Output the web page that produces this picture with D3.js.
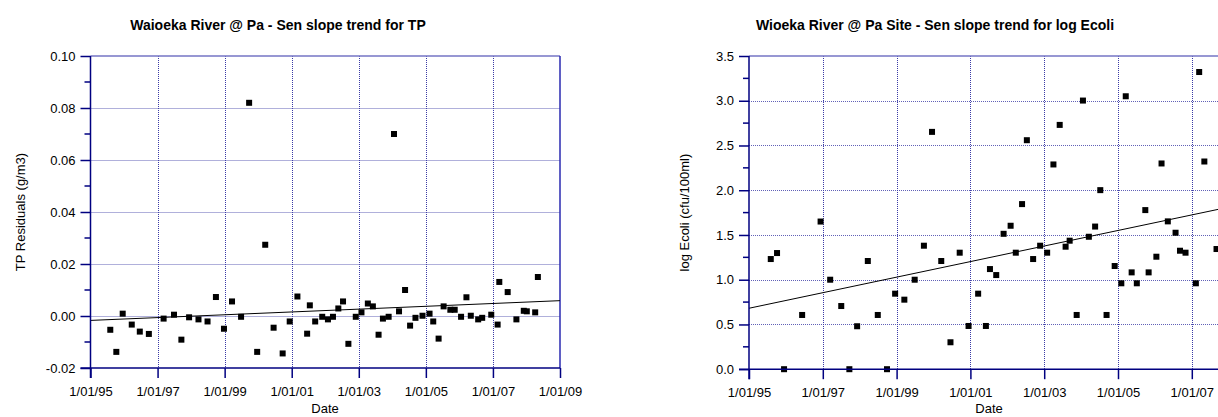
<!DOCTYPE html>
<html><head><meta charset="utf-8">
<script src="https://cdn.jsdelivr.net/npm/d3@7"></script>
<style>
body{margin:0;background:#fff;overflow:hidden}
svg{display:block}
text{font-family:"Liberation Sans",Arial,sans-serif;fill:#000}
</style>
</head><body>
<svg id="c" width="1218" height="417"></svg>
<script>
// ---------- shared axis data ----------
const xTickYears = [1995, 1997, 1999, 2001, 2003, 2005, 2007, 2009];
const xTickLabels = ["1/01/95", "1/01/97", "1/01/99", "1/01/01", "1/01/03", "1/01/05", "1/01/07", "1/01/09"];

// ---------- left panel: TP residuals ----------
const tpTitle = "Waioeka River @ Pa - Sen slope trend for TP";
const tpYLabel = "TP Residuals (g/m3)";
const tpYTicks = [-0.02, 0.00, 0.02, 0.04, 0.06, 0.08, 0.10];
const tpYTickLabels = ["-0.02", "0.00", "0.02", "0.04", "0.06", "0.08", "0.10"];
const tpDates = [1995.59, 1995.77, 1995.96, 1996.23, 1996.47, 1996.74, 1997.18, 1997.49, 1997.71, 1997.94,
  1998.22, 1998.49, 1998.74, 1998.98, 1999.22, 1999.49, 1999.73, 1999.97, 2000.21, 2000.46,
  2000.73, 2000.94, 2001.17, 2001.46, 2001.54, 2001.70, 2001.91, 2002.08, 2002.23, 2002.39,
  2002.53, 2002.69, 2002.91, 2003.08, 2003.27, 2003.42, 2003.59, 2003.72, 2003.89, 2004.05,
  2004.20, 2004.38, 2004.53, 2004.69, 2004.90, 2005.11, 2005.22, 2005.38, 2005.53, 2005.73,
  2005.86, 2006.05, 2006.21, 2006.34, 2006.56, 2006.68, 2006.95, 2007.14, 2007.19, 2007.44,
  2007.70, 2007.92, 2008.01, 2008.26, 2008.34];
const tpValues = [-0.0053, -0.0138, 0.0009, -0.0033, -0.0060, -0.0069, -0.0010, 0.0005, -0.0091, -0.0005,
  -0.0013, -0.0021, 0.0073, -0.0049, 0.0056, -0.0003, 0.0820, -0.0138, 0.0274, -0.0045,
  -0.0144, -0.0021, 0.0075, -0.0068, 0.0041, -0.0021, -0.0003, -0.0013, -0.0003, 0.0029,
  0.0056, -0.0107, -0.0003, 0.0014, 0.0048, 0.0037, -0.0072, -0.0010, -0.0003, 0.0700,
  0.0018, 0.0100, -0.0037, -0.0007, 0.0001, 0.0009, -0.0021, -0.0087, 0.0037, 0.0024,
  0.0024, -0.0003, 0.0072, 0.0001, -0.0013, -0.0007, 0.0005, -0.0033, 0.0131, 0.0092,
  -0.0013, 0.0020, 0.0018, 0.0014, 0.0150];
const tpTrendYears = [1995, 2009];
const tpTrend = [-0.0017, 0.0059];

// ---------- right panel: log Ecoli ----------
const ecTitle = "Wioeka River @ Pa Site - Sen slope trend for log Ecoli";
const ecYLabel = "log Ecoli (cfu/100ml)";
const ecYTicks = [0, 0.5, 1.0, 1.5, 2.0, 2.5, 3.0, 3.5];
const ecYTickLabels = ["0.0", "0.5", "1.0", "1.5", "2.0", "2.5", "3.0", "3.5"];
const ecDates = [1995.59, 1995.76, 1995.95, 1996.44, 1996.94, 1997.20, 1997.50, 1997.72, 1997.93, 1998.22,
  1998.49, 1998.74, 1998.96, 1999.21, 1999.49, 1999.74, 1999.96, 2000.21, 2000.46, 2000.71,
  2000.95, 2001.21, 2001.42, 2001.53, 2001.70, 2001.90, 2002.09, 2002.23, 2002.40, 2002.53,
  2002.70, 2002.89, 2003.08, 2003.25, 2003.42, 2003.58, 2003.69, 2003.88, 2004.05, 2004.21,
  2004.38, 2004.52, 2004.69, 2004.91, 2005.09, 2005.21, 2005.37, 2005.51, 2005.74, 2005.83,
  2006.04, 2006.18, 2006.35, 2006.56, 2006.68, 2006.83, 2007.11, 2007.20, 2007.34, 2007.67];
const ecValues = [1.231, 1.298, 0.000, 0.606, 1.650, 1.000, 0.706, 0.000, 0.480, 1.209,
  0.606, 0.000, 0.844, 0.777, 1.000, 1.380, 2.652, 1.209, 0.301, 1.302,
  0.483, 0.844, 0.483, 1.119, 1.052, 1.513, 1.603, 1.302, 1.845, 2.559,
  1.231, 1.380, 1.302, 2.288, 2.730, 1.369, 1.436, 0.606, 3.002, 1.480,
  1.594, 2.001, 0.606, 1.153, 0.960, 3.050, 1.082, 0.960, 1.778, 1.082,
  1.257, 2.299, 1.652, 1.525, 1.324, 1.302, 0.960, 3.321, 2.321, 1.343];
const ecTrendYears = [1995, 2009];
const ecTrend = [0.681, 1.898];

const svg = d3.select("#c");
const W = 1218;
const NAVY = "#000080";
const GRID = "#3a3aa6";

function drawPanel(cfg) {
  const x = d3.scaleLinear().domain([xTickYears[0], xTickYears[xTickYears.length - 1]]).range([cfg.left, cfg.right]);
  const yT = cfg.yTicks;
  const y = d3.scaleLinear().domain([yT[0], yT[yT.length - 1]]).range([cfg.bottom, cfg.top]);
  const g = svg.append("g");

  // grid
  g.selectAll("line.gx").data(xTickYears.slice(1, -1)).join("line")
    .attr("x1", d => Math.round(x(d)) + 0.5).attr("x2", d => Math.round(x(d)) + 0.5)
    .attr("y1", cfg.top).attr("y2", cfg.bottom)
    .attr("stroke", GRID).attr("stroke-width", 1).attr("stroke-dasharray", "1,1");
  g.selectAll("line.gy").data(yT.slice(1, -1)).join("line")
    .attr("x1", cfg.left).attr("x2", cfg.right)
    .attr("y1", d => Math.round(y(d)) + 0.5).attr("y2", d => Math.round(y(d)) + 0.5)
    .attr("stroke", GRID).attr("stroke-width", 1).attr("stroke-dasharray", "1,1").attr("opacity", 0.8);

  // frame: top (light), right (blue)
  g.append("line").attr("x1", cfg.left).attr("x2", cfg.right).attr("y1", cfg.top).attr("y2", cfg.top)
    .attr("stroke", "#7474c4").attr("stroke-width", 1.5);
  g.append("line").attr("x1", cfg.right).attr("x2", cfg.right).attr("y1", cfg.top).attr("y2", cfg.bottom)
    .attr("stroke", "#2a2ab0").attr("stroke-width", 1.5);

  // trend line
  const line = d3.line().x(d => x(d[0])).y(d => y(d[1]));
  g.append("path").datum(cfg.trendYears.map((t, i) => [t, cfg.trend[i]]))
    .attr("d", line).attr("fill", "none").attr("stroke", "#000").attr("stroke-width", 1);

  // points
  const s = 6;
  g.selectAll("rect.pt").data(cfg.dates.map((d, i) => [d, cfg.values[i]])).join("rect")
    .attr("x", d => x(d[0]) - s / 2).attr("y", d => y(d[1]) - s / 2)
    .attr("width", s).attr("height", s).attr("fill", "#000");

  // y axis
  const yAxis = d3.axisLeft(y).tickValues(yT).tickFormat((d, i) => cfg.yTickLabels[i])
    .tickSize(10).tickPadding(5);
  const ya = g.append("g").attr("transform", `translate(${cfg.left},0)`).call(yAxis);
  ya.select(".domain").attr("stroke", NAVY).attr("stroke-width", 1.5).attr("d", `M0,${cfg.top}V${cfg.bottom + 10}`);
  ya.selectAll(".tick line").attr("stroke", NAVY).attr("stroke-width", 1.5);
  ya.selectAll(".tick text").attr("font-size", 13).attr("font-family", "Liberation Sans, Arial, sans-serif").attr("fill", "#000");
  const minors = d3.pairs(yT).map(p => (p[0] + p[1]) / 2);
  ya.selectAll("line.minor").data(minors).join("line")
    .attr("x1", -6).attr("x2", 0).attr("y1", d => y(d)).attr("y2", d => y(d))
    .attr("stroke", NAVY).attr("stroke-width", 1.5);

  // x axis
  const xAxis = d3.axisBottom(x).tickValues(xTickYears).tickFormat((d, i) => xTickLabels[i])
    .tickSize(10).tickPadding(9);
  const xa = g.append("g").attr("transform", `translate(0,${cfg.bottom})`).call(xAxis);
  xa.select(".domain").attr("stroke", NAVY).attr("stroke-width", 1.5).attr("d", `M${cfg.left - 10},0H${cfg.right}`);
  xa.selectAll(".tick line").attr("stroke", NAVY).attr("stroke-width", 1.5);
  xa.selectAll(".tick text").attr("font-size", 13).attr("font-family", "Liberation Sans, Arial, sans-serif").attr("fill", "#000");
  // labels that fall beyond the page edge are not visible in the reference
  xa.selectAll(".tick").filter(d => x(d) + 22 > W).select("text").remove();

  // titles
  g.append("text").attr("x", cfg.titleX).attr("y", 30).attr("text-anchor", "middle")
    .attr("font-size", 14).attr("font-weight", "bold").text(cfg.title);
  g.append("text").attr("transform", `translate(${cfg.yLabelX},${(cfg.top + cfg.bottom) / 2}) rotate(-90)`)
    .attr("text-anchor", "middle").attr("font-size", 13).text(cfg.yLabel);
  g.append("text").attr("x", cfg.dateX).attr("y", 413).attr("text-anchor", "middle")
    .attr("font-size", 13).text("Date");
}

drawPanel({left: 90.5, right: 560, top: 56, bottom: 368, yTicks: tpYTicks, yTickLabels: tpYTickLabels,
  dates: tpDates, values: tpValues, trendYears: tpTrendYears, trend: tpTrend,
  title: tpTitle, titleX: 278, yLabel: tpYLabel, yLabelX: 25, dateX: 325});
drawPanel({left: 749, right: 1265.6, top: 56, bottom: 369.2, yTicks: ecYTicks, yTickLabels: ecYTickLabels,
  dates: ecDates, values: ecValues, trendYears: ecTrendYears, trend: ecTrend,
  title: ecTitle, titleX: 935, yLabel: ecYLabel, yLabelX: 689, dateX: 989});
</script>
</body></html>
